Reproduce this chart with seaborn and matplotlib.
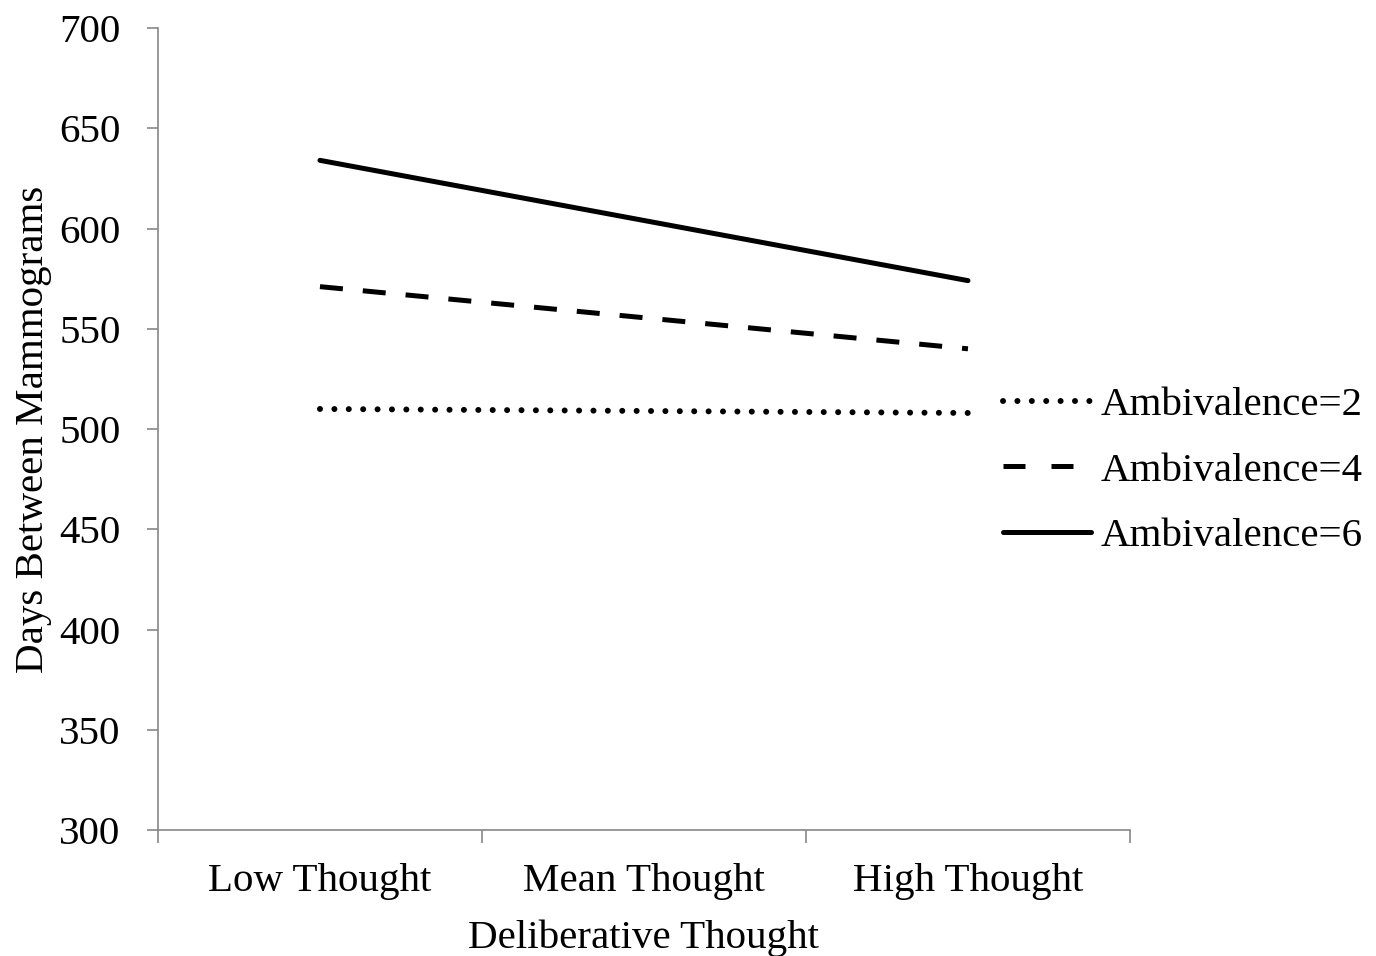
import pandas as pd
import matplotlib.pyplot as plt
import seaborn as sns

categories = ['Low Thought', 'Mean Thought', 'High Thought']
amb2 = [510, 509, 508]
amb4 = [571, 555.5, 540]
amb6 = [634, 604, 574]
groups = ['Ambivalence=2', 'Ambivalence=4', 'Ambivalence=6']

df = pd.DataFrame({
    'thought': categories * 3,
    'days': amb2 + amb4 + amb6,
    'group': [g for g in groups for _ in categories],
})

sns.set_style('white')
plt.rcParams['font.family'] = ['Liberation Serif', 'DejaVu Serif']
plt.rcParams['text.color'] = 'black'
plt.rcParams['xtick.labelcolor'] = 'black'
plt.rcParams['ytick.labelcolor'] = 'black'
plt.rcParams['axes.labelcolor'] = 'black'

fs = 29.5
fig = plt.figure(figsize=(13.76, 9.56), dpi=100)
ax = fig.add_axes([0.1148, 0.1318, 0.7064, 0.8389])

dash_map = {'Ambivalence=2': (0.01, 2.4), 'Ambivalence=4': (4.6, 4), 'Ambivalence=6': ''}
sns.lineplot(data=df, x='thought', y='days', style='group', dashes=dash_map,
             color='black', linewidth=3.6, ax=ax, legend=True)
ax.lines[0].set_dash_capstyle('round')
ax.lines[0].set_linewidth(4.3)

ax.set_xlim(-0.5, 2.5)
ax.set_ylim(300, 700)
ax.set_yticks(range(300, 701, 50))
ax.set_xticks([0, 1, 2])
ax.set_xticklabels(categories)
ax.set_xticks([-0.5, 0.5, 1.5, 2.5], minor=True)
ax.tick_params(axis='x', which='major', length=0, pad=24, labelsize=fs)
ax.tick_params(axis='x', which='minor', length=9, width=1.2, color='#888888', direction='out')
ax.tick_params(axis='y', length=8, width=1.2, color='#888888', direction='out', pad=19, labelsize=fs)
ax.xaxis.set_ticks_position('bottom')
ax.yaxis.set_ticks_position('left')

for s in ['top', 'right']:
    ax.spines[s].set_visible(False)
for s in ['left', 'bottom']:
    ax.spines[s].set_color('#888888')
    ax.spines[s].set_linewidth(1.2)

ax.set_xlabel('Deliberative Thought', fontsize=fs, labelpad=14)
ax.set_ylabel('Days Between Mammograms', fontsize=fs, labelpad=5)

handles, labels = ax.get_legend_handles_labels()
leg = ax.legend(handles, labels, loc='center left', bbox_to_anchor=(0.869, 0.448),
                frameon=False, fontsize=fs, handlelength=2.15, handletextpad=0.25,
                labelspacing=0.68, borderpad=0, borderaxespad=0)
leg_lines = leg.get_lines()
for ln in leg_lines:
    ln.set_linewidth(3.6)
leg_lines[0].set_linewidth(4.3)
leg_lines[0].set_dash_capstyle('round')
leg_lines[0].set_dashes((0.01, 2.4))
leg_lines[1].set_dashes((4.4, 5.2))

fig.savefig('out.png', dpi=100, facecolor='white')
